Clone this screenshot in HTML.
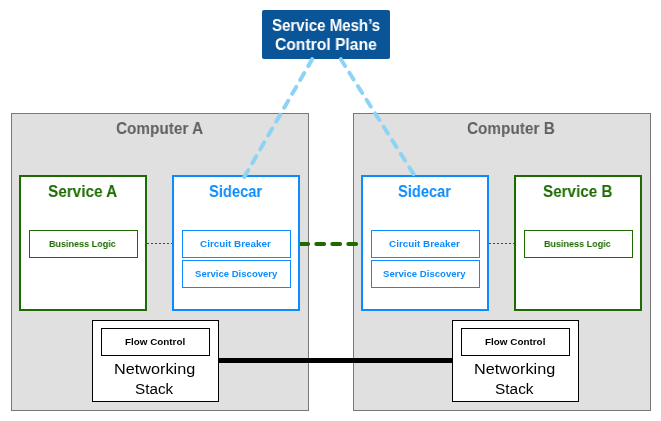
<!DOCTYPE html>
<html><head><meta charset="utf-8">
<style>
html,body{margin:0;padding:0;background:#fff;width:661px;height:421px;overflow:hidden;position:relative;font-family:"Liberation Sans",sans-serif;}
div{box-sizing:border-box;position:absolute;}
.comp{background:#e0e0e0;border:1px solid #777;width:298px;height:298px;top:113px;}
.svc{border:2px solid #1d6b00;background:#fff;width:128px;height:136px;top:175px;}
.side{border:2px solid #0a8cff;background:#fff;width:128px;height:136px;top:175px;}
.sm{border:1px solid #1d6b00;background:#fff;width:109px;height:28px;}
.smb{border:1px solid #0a8cff;background:#fff;width:109px;height:28px;}
.net{border:1px solid #000;background:#fff;width:127px;height:82px;top:320px;}
.fc{border:1px solid #000;background:#fff;width:109px;height:28px;top:328px;}
.t{position:absolute;white-space:nowrap;font-weight:bold;line-height:1;transform-origin:0 0;will-change:transform;}
svg{position:absolute;left:0;top:0;}
</style></head><body>

<div class="comp" style="left:11px"></div>
<div class="comp" style="left:353px"></div>


<div class="svc" style="left:19px"></div>
<div class="side" style="left:172px"></div>
<div class="side" style="left:361px"></div>
<div class="svc" style="left:514px"></div>


<div class="sm" style="left:29px;top:230px"></div>
<div class="smb" style="left:182px;top:230px"></div>
<div class="smb" style="left:182px;top:260px"></div>
<div class="smb" style="left:371px;top:230px"></div>
<div class="smb" style="left:371px;top:260px"></div>
<div class="sm" style="left:524px;top:230px"></div>


<div class="net" style="left:92px"></div>
<div class="fc" style="left:101px"></div>
<div class="net" style="left:452px"></div>
<div class="fc" style="left:461px"></div>


<div style="left:262px;top:10px;width:128px;height:49px;background:#0a5597;border-radius:2px;"></div>

<span class="t" style="left:115.88px;top:119.84px;font-size:17.14px;font-weight:bold;color:#606060;transform:scaleX(0.8944)">Computer A</span>
<span class="t" style="left:466.88px;top:119.84px;font-size:17.14px;font-weight:bold;color:#606060;transform:scaleX(0.8947)">Computer B</span>
<span class="t" style="left:48.14px;top:182.69px;font-size:17.14px;font-weight:bold;color:#1d6b00;transform:scaleX(0.8941)">Service A</span>
<span class="t" style="left:208.88px;top:182.89px;font-size:17.14px;font-weight:bold;color:#0a8cff;transform:scaleX(0.8578)">Sidecar</span>
<span class="t" style="left:397.60px;top:182.89px;font-size:17.14px;font-weight:bold;color:#0a8cff;transform:scaleX(0.8542)">Sidecar</span>
<span class="t" style="left:543.14px;top:182.69px;font-size:17.14px;font-weight:bold;color:#1d6b00;transform:scaleX(0.8887)">Service B</span>
<span class="t" style="left:49.27px;top:238.57px;font-size:9.86px;font-weight:bold;color:#1d6b00;transform:scaleX(0.9171)">Business Logic</span>
<span class="t" style="left:200.10px;top:238.72px;font-size:9.57px;font-weight:bold;color:#0a8cff;transform:scaleX(1.0330)">Circuit Breaker</span>
<span class="t" style="left:194.51px;top:268.62px;font-size:9.57px;font-weight:bold;color:#0a8cff;transform:scaleX(0.9997)">Service Discovery</span>
<span class="t" style="left:389.10px;top:238.72px;font-size:9.57px;font-weight:bold;color:#0a8cff;transform:scaleX(1.0330)">Circuit Breaker</span>
<span class="t" style="left:383.41px;top:268.62px;font-size:9.57px;font-weight:bold;color:#0a8cff;transform:scaleX(1.0034)">Service Discovery</span>
<span class="t" style="left:544.27px;top:238.57px;font-size:9.86px;font-weight:bold;color:#1d6b00;transform:scaleX(0.9171)">Business Logic</span>
<span class="t" style="left:124.71px;top:336.97px;font-size:9.86px;font-weight:bold;color:#000;transform:scaleX(0.9992)">Flow Control</span>
<span class="t" style="left:484.61px;top:336.97px;font-size:9.86px;font-weight:bold;color:#000;transform:scaleX(1.0043)">Flow Control</span>
<span class="t" style="left:113.92px;top:361.41px;font-size:15.44px;font-weight:normal;color:#000;transform:scaleX(1.052)">Networking</span>
<span class="t" style="left:135.23px;top:380.65px;font-size:15.14px;font-weight:normal;color:#000;transform:scaleX(1.0108)">Stack</span>
<span class="t" style="left:473.92px;top:361.41px;font-size:15.44px;font-weight:normal;color:#000;transform:scaleX(1.052)">Networking</span>
<span class="t" style="left:495.23px;top:380.65px;font-size:15.14px;font-weight:normal;color:#000;transform:scaleX(1.0189)">Stack</span>
<span class="t" style="left:271.55px;top:16.98px;font-size:16.02px;font-weight:bold;color:#fff;transform:scaleX(0.9387)">Service Mesh’s</span>
<span class="t" style="left:274.9px;top:35.6px;font-size:16.02px;font-weight:bold;color:#fff;transform:scaleX(0.977)">Control Plane</span>
<svg width="661" height="421" viewBox="0 0 661 421">
  <line x1="147" y1="243.5" x2="172" y2="243.5" stroke="#1d6b00" stroke-width="1" stroke-dasharray="2 2"/>
  <line x1="489" y1="243.5" x2="514" y2="243.5" stroke="#1d6b00" stroke-width="1" stroke-dasharray="2 2"/>
  <clipPath id="gc"><rect x="300" y="230" width="61" height="30"/></clipPath>
  <line clip-path="url(#gc)" x1="300.3" y1="244" x2="362" y2="244" stroke="#1d6b00" stroke-width="4" stroke-linecap="round" stroke-dasharray="7.8 8.2"/>
  <line x1="219" y1="360.5" x2="452" y2="360.5" stroke="#000" stroke-width="5"/>
  <line x1="312.2" y1="59.2" x2="244" y2="177.5" stroke="#8dd3f3" stroke-width="4" stroke-linecap="round" stroke-dasharray="8 8"/>
  <line x1="340.8" y1="59.2" x2="415.5" y2="177" stroke="#8dd3f3" stroke-width="4" stroke-linecap="round" stroke-dasharray="8 8"/>
</svg>
</body></html>
